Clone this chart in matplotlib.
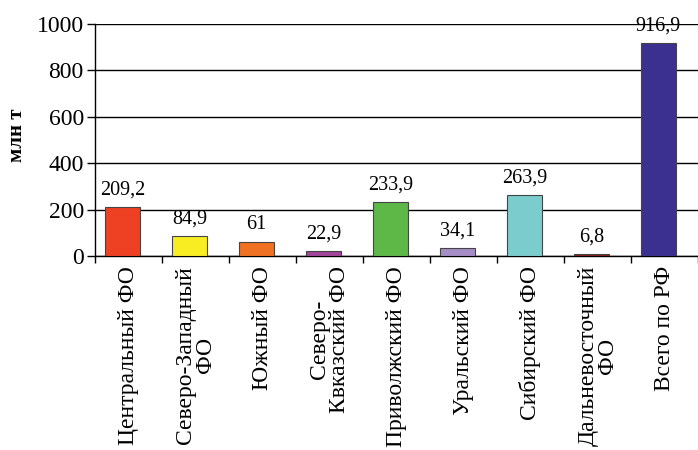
import matplotlib.pyplot as plt
import numpy as np

categories = ['Центральный ФО', 'Северо-Западный\nФО', 'Южный ФО', 'Северо-\nКвказский ФО',
              'Приволжский ФО', 'Уральский ФО', 'Сибирский ФО', 'Дальневосточный\nФО', 'Всего по РФ']
values = [209.2, 84.9, 61, 22.9, 233.9, 34.1, 263.9, 6.8, 916.9]
value_labels = ['209,2', '84,9', '61', '22,9', '233,9', '34,1', '263,9', '6,8', '916,9']
colors = ['#EE4123', '#F8EC23', '#F07122', '#A2449A', '#5DB847', '#A58DC5', '#7BCDCD', '#8B1A1A', '#3B2F8F']
yticks = [0, 200, 400, 600, 800, 1000]

plt.rcParams['font.family'] = ['Liberation Serif', 'DejaVu Serif']

fig = plt.figure(figsize=(6.98, 4.5), dpi=100)
ax = fig.add_axes([0.136, 0.431, 0.864, 0.516])

x = np.arange(len(categories))
bar_x = x - 0.09  # bars sit a little left of the category centre in the original
ax.bar(bar_x, values, width=0.53, color=colors, edgecolor='#444444', linewidth=0.8, zorder=3)

for xi, v, lab in zip(bar_x, values, value_labels):
    ax.text(xi, v + 32, lab, ha='center', va='bottom', fontsize=14.5, zorder=4)

ax.set_xlim(-0.5, len(categories) - 0.5)
ax.set_ylim(0, 1000)
ax.set_yticks(yticks)
ax.set_yticklabels([str(t) for t in yticks], fontsize=17)
ax.yaxis.grid(True, color='black', linewidth=1.0, zorder=0)
ax.set_axisbelow(True)

ax.set_xticks(x)
ax.set_xticklabels(categories, rotation=90, fontsize=17, ha='center', va='top',
                   multialignment='center', linespacing=0.9)
ax.tick_params(axis='x', which='major', length=0, pad=7)
ax.set_xticks(np.arange(len(categories) + 1) - 0.5, minor=True)
ax.tick_params(axis='x', which='minor', length=5, direction='out', width=1)
ax.tick_params(axis='y', length=6, direction='out', width=1, pad=2)

ax.spines['top'].set_visible(False)
ax.spines['right'].set_visible(False)
ax.spines['left'].set_linewidth(1.0)
ax.spines['bottom'].set_linewidth(1.0)

ax.set_ylabel('млн т', fontsize=15, fontweight='bold')
ax.yaxis.set_label_coords(-0.113, 0.52)

fig.savefig('out.png', dpi=100)
